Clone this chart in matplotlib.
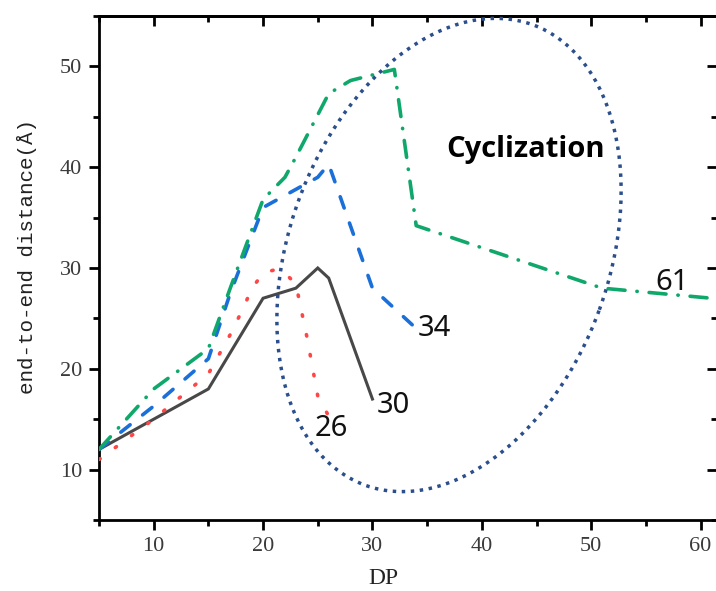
import matplotlib
matplotlib.use("Agg")
import matplotlib.pyplot as plt
from matplotlib.ticker import MultipleLocator
from matplotlib.patches import Ellipse
from matplotlib.transforms import IdentityTransform

# ---- data ----
dp_30 = [5, 10, 15, 20, 23, 25, 26, 30]
ee_30 = [12, 15, 18, 27, 28, 30, 29, 17]

dp_26 = [5, 10, 15, 17, 18, 19, 20, 21, 22, 23, 24, 25, 26]
ee_26 = [11, 15, 19.5, 23.4, 25.6, 28.0, 29.5, 29.8, 29.5, 28.4, 23.2, 17.3, 15.3]

dp_34 = [5, 10, 15, 17, 20, 25, 26, 30, 34]
ee_34 = [12, 16.3, 21, 27.5, 36, 39, 40.3, 28, 24]

dp_61 = [5, 10, 15, 17, 20, 22, 23, 26, 28, 32, 34, 51, 61]
ee_61 = [12, 18, 22, 28, 36.8, 39, 41, 47.3, 48.6, 49.7, 34.2, 28, 27]

end_labels = ["26", "30", "34", "61"]
label_pos = [(24.7, 14.1), (30.4, 16.4), (34.1, 24.0), (55.9, 28.6)]

x_major = [10, 20, 30, 40, 50, 60]
y_major = [10, 20, 30, 40, 50]

W, H = 716, 591
fig = plt.figure(figsize=(W / 100, H / 100), dpi=100)
ax = fig.add_axes([99 / W, 71 / H, 618 / W, 504 / H])

ax.plot(dp_30, ee_30, color="#484848", lw=2.2, solid_joinstyle="miter", zorder=3)
ax.plot(dp_26, ee_26, color="#ff4646", lw=2.6, linestyle=(0, (0.4, 5.2)),
        dash_capstyle="round", zorder=3)
ax.plot(dp_34, ee_34, color="#1a6fd8", lw=2.6, linestyle=(0, (3.3, 4.4)),
        dash_capstyle="round", zorder=3)
ax.plot(dp_61, ee_61, color="#0fa86a", lw=2.6, linestyle=(0, (4.7, 3.3, 0.1, 3.3)),
        dash_capstyle="round", zorder=3)

# Cyclization ellipse (annotation, drawn in pixel space)
ell = Ellipse((449, H - 255), width=490, height=320, angle=70,
              transform=IdentityTransform(), fill=False, edgecolor="#2b4f8c",
              lw=2.5, linestyle=(0, (1, 1.6)), clip_on=False, zorder=4)
fig.patches.append(ell)

for t, (x, y) in zip(end_labels, label_pos):
    ax.text(x, y, t, fontsize=21, family=["Noto Sans", "DejaVu Sans"],
            color="#111111", ha="left", va="center", zorder=5)
ax.text(44.0, 41.8, "Cyclization", fontsize=21, fontweight="bold",
        family=["Open Sans", "DejaVu Sans"], ha="center", va="center", zorder=5)

ax.set_xlim(5, 61.5)
ax.set_ylim(5, 55)
ax.set_xticks(x_major)
ax.set_yticks(y_major)
ax.xaxis.set_minor_locator(MultipleLocator(5))
ax.yaxis.set_minor_locator(MultipleLocator(5))
for lab in ax.get_xticklabels() + ax.get_yticklabels():
    lab.set_family("Liberation Serif")
    lab.set_fontsize(16)
    lab.set_color("#3a3a3a")
ax.tick_params(which="major", length=7, width=2, direction="out", pad=5)
ax.tick_params(which="minor", length=4, width=2, direction="out")
for s in ax.spines.values():
    s.set_linewidth(2)

top = ax.secondary_xaxis("top")
top.set_xticks(x_major)
top.xaxis.set_minor_locator(MultipleLocator(5))
top.tick_params(which="major", length=7, width=2, direction="in", labeltop=False)
top.tick_params(which="minor", length=4, width=2, direction="in")
top.spines["top"].set_linewidth(2)

right = ax.secondary_yaxis("right")
right.set_yticks(y_major)
right.yaxis.set_minor_locator(MultipleLocator(5))
right.tick_params(which="major", length=7, width=2, direction="in", labelright=False)
right.tick_params(which="minor", length=4, width=2, direction="in")

ax.set_xlabel("DP", family="Liberation Serif", fontsize=17, color="#222222")
ax.xaxis.set_label_coords((383 - 99) / 618, (520 - 578) / 504)
ax.xaxis.label.set_va("center")
ax.set_ylabel("end-to-end distance(Å)", family="Liberation Mono", fontsize=15,
              color="#222222")
ax.yaxis.set_label_coords((27 - 99) / 618, (520 - 257) / 504)
ax.yaxis.label.set_va("center")

fig.savefig("out.png", dpi=100)
